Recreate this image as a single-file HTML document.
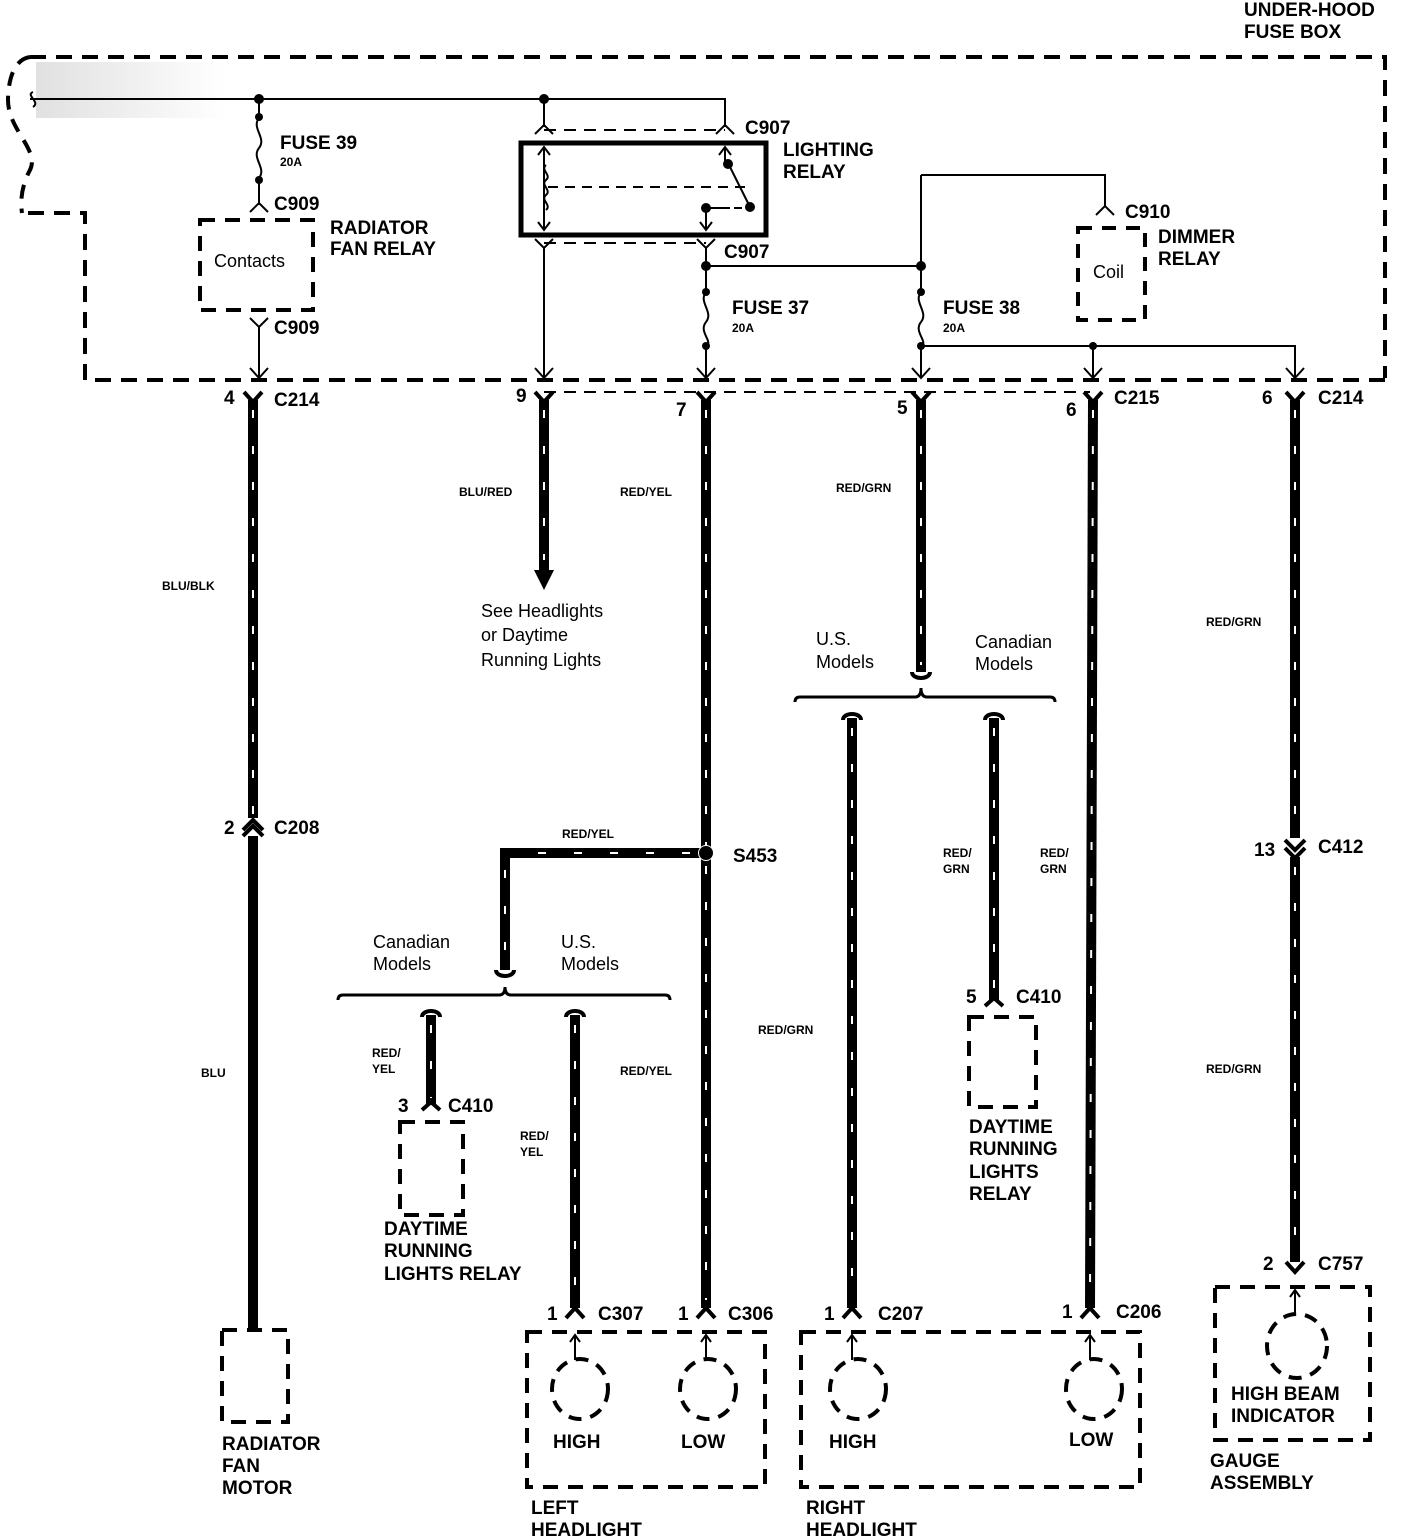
<!DOCTYPE html>
<html><head><meta charset="utf-8"><style>
html,body{margin:0;padding:0;background:#fff}
svg{display:block}
text{font-family:"Liberation Sans",sans-serif;fill:#000}
.b{font-weight:bold;font-size:19px}
.s{font-weight:bold;font-size:12px}
.n{font-size:18px}
</style></head><body>
<svg width="1408" height="1538" viewBox="0 0 1408 1538" xmlns="http://www.w3.org/2000/svg">
<defs>
<linearGradient id="g" x1="0" x2="1"><stop offset="0" stop-color="#ccc"/><stop offset="1" stop-color="#fff"/></linearGradient>
</defs>
<rect x="36" y="62" width="190" height="56" fill="url(#g)" opacity="0.6"/>
<g fill="none" stroke="#000">
<!-- fuse box outline -->
<path d="M30 57 H1385 V378 M1385 380 H85 V213 H22" stroke-width="4" stroke-dasharray="16 10"/>
<path d="M30 57 C10 60 8 90 8 100 C8 130 40 150 30 170 C22 185 20 200 22 213" stroke-width="4" stroke-dasharray="14 10"/>
<!-- bus -->
<path d="M30 99 H725 V127" stroke-width="2"/>
<path d="M33 92 c-8 3 8 10 0 15" stroke-width="2"/>
<!-- fuse 39 -->
<path d="M259 99 V118 c-8 10 8 20 0 30 c-8 10 8 20 0 30 V205" stroke-width="2"/>
<path d="M250 212 L259 203 L268 212" stroke-width="2"/>
<rect x="200" y="220" width="113" height="90" stroke-width="4" stroke-dasharray="15 10"/>
<path d="M250 318 L259 327 L268 318 M259 327 V378 M250 368 L259 378 L268 368" stroke-width="2"/>
<!-- lighting relay -->
<path d="M544 99 V127 M535 134 L544 125 L553 134 M716 134 L725 125 L734 134" stroke-width="2"/>
<path d="M544 130 H725" stroke-width="2" stroke-dasharray="12 8"/>
<rect x="521" y="143" width="245" height="92" stroke-width="5"/>
<path d="M544 147 V230 M538 155 L544 147 L550 155 M538 222 L544 230 L550 222" stroke-width="2"/>
<path d="M546 165 c-6 5 6 10 0 15 c-6 5 6 10 0 15 c-6 5 6 10 0 15" stroke-width="2"/>
<path d="M548 187 H745" stroke-width="2" stroke-dasharray="10 7"/>
<path d="M725 147 V163 M719 155 L725 147 L731 155 M728 163 L750 207" stroke-width="2"/>
<path d="M706 206 V230 M700 222 L706 230 L712 222 M708 208 H730" stroke-width="2"/>
<path d="M706 208 H748" stroke-width="2" stroke-dasharray="8 6"/>
<path d="M544 243 H706" stroke-width="2" stroke-dasharray="12 8"/>
<path d="M535 239 L544 248 L553 239 M697 239 L706 248 L715 239" stroke-width="2"/>
<path d="M544 248 V378 M535 368 L544 378 L553 368" stroke-width="2"/>
<!-- fuse 37 -->
<path d="M706 248 V292 c-8 10 8 20 0 30 c-8 10 8 20 0 24 V378 M697 368 L706 378 L715 368" stroke-width="2"/>
<path d="M706 266 H921" stroke-width="2"/>
<!-- fuse 38 -->
<path d="M921 175 H1105 V207 M1096 215 L1105 206 L1114 215" stroke-width="2"/>
<path d="M921 175 V292 c-8 10 8 20 0 30 c-8 10 8 20 0 24 V378 M912 368 L921 378 L930 368" stroke-width="2"/>
<rect x="1078" y="228" width="67" height="92" stroke-width="4" stroke-dasharray="14 10"/>
<path d="M921 346 H1295 V378 M1286 368 L1295 378 L1304 368 M1093 346 V378 M1084 368 L1093 378 L1102 368" stroke-width="2"/>
<path d="M544 392 H1090" stroke-width="2" stroke-dasharray="12 8"/>
</g>
<g fill="#000">
<circle cx="259" cy="99" r="5"/><circle cx="544" cy="99" r="5"/>
<circle cx="259" cy="117" r="4"/><circle cx="259" cy="180" r="4"/>
<circle cx="706" cy="266" r="5"/><circle cx="921" cy="266" r="5"/>
<circle cx="706" cy="292" r="4"/><circle cx="706" cy="346" r="4"/>
<circle cx="921" cy="292" r="4"/><circle cx="921" cy="346" r="4"/>
<circle cx="1093" cy="346" r="4"/>
<circle cx="728" cy="164" r="5"/><circle cx="750" cy="207" r="5"/><circle cx="706" cy="208" r="5"/>
</g>
<!-- connectors at y~392 -->
<g fill="none" stroke="#000" stroke-width="4">
<path d="M244 392 L253 402 L262 392 M535 392 L544 402 L553 392 M697 392 L706 402 L715 392 M912 392 L921 402 L930 392 M1084 392 L1093 402 L1102 392 M1286 392 L1295 402 L1304 392"/>
</g>
<!-- thick wires -->
<g fill="none" stroke="#000" stroke-width="10">
<path d="M253 400 V818"/><path d="M544 400 V572"/><path d="M706 400 V1308"/>
<path d="M921 400 V672"/><path d="M1093 400 L1090 1308"/><path d="M1295 400 V838"/>
<path d="M253 836 V1332"/>
<path d="M700 853 H505 V970"/>
<path d="M852 718 V1308"/><path d="M994 718 V1000"/>
<path d="M431 1015 V1105"/><path d="M575 1015 V1308"/>
<path d="M1295 857 V1262"/>
</g>
<g fill="none" stroke="#fff" stroke-width="2" stroke-dasharray="8 28">
<path d="M253 410 V818"/><path d="M544 410 V560"/><path d="M706 410 V846"/><path d="M706 866 V1300"/>
<path d="M921 410 V665"/><path d="M1093 410 L1090 1300"/><path d="M1295 410 V830"/>
<path d="M690 853 H515"/><path d="M505 870 V965"/>
<path d="M852 728 V1300"/><path d="M994 728 V995"/>
<path d="M431 1025 V1098"/><path d="M575 1025 V1300"/>
<path d="M1295 867 V1255"/>
</g>
<polygon points="534,570 554,570 544,590" fill="#000"/>
<circle cx="706" cy="853" r="8" fill="#fff"/><circle cx="706" cy="853" r="7" fill="#000"/>
<!-- inline connectors -->
<g fill="none" stroke="#000" stroke-width="4">
<path d="M243 830 L253 820 L263 830 M243 836 L253 826 L263 836"/>
<path d="M1285 840 L1295 850 L1305 840 M1285 848 L1295 858 L1305 848"/>
<path d="M1286 1262 L1295 1272 L1304 1262"/>
<path d="M566 1318 L575 1308 L584 1318 M697 1318 L706 1308 L715 1318 M843 1318 L852 1308 L861 1318 M1081 1318 L1090 1308 L1099 1318"/>
<path d="M422 1110 L431 1102 L440 1110 M985 1006 L994 998 L1003 1006"/>
<path d="M912 672 c0 8 18 8 18 0 M496 970 c0 8 18 8 18 0"/>
<path d="M843 720 c0 -8 18 -8 18 0 M985 720 c0 -8 18 -8 18 0 M422 1017 c0 -8 18 -8 18 0 M566 1017 c0 -8 18 -8 18 0"/>
</g>
<!-- brackets -->
<g fill="none" stroke="#000" stroke-width="3">
<path d="M795 702 Q795 697 800 697 H915 Q921 697 921 688 Q921 697 927 697 H1050 Q1055 697 1055 702"/>
<path d="M338 1000 Q338 995 343 995 H499 Q505 995 505 987 Q505 995 511 995 H665 Q670 995 670 1000"/>
</g>
<!-- boxes bottom -->
<g fill="none" stroke="#000" stroke-width="4" stroke-dasharray="15 10">
<rect x="222" y="1330" width="66" height="92"/>
<rect x="400" y="1122" width="63" height="93"/>
<rect x="969" y="1017" width="67" height="90"/>
<rect x="527" y="1332" width="238" height="155"/>
<rect x="801" y="1332" width="339" height="155"/>
<rect x="1215" y="1287" width="155" height="153"/>
</g>
<g fill="none" stroke="#000" stroke-width="4" stroke-dasharray="13 9">
<ellipse cx="580" cy="1389" rx="28" ry="30"/><ellipse cx="708" cy="1389" rx="28" ry="30"/>
<ellipse cx="858" cy="1389" rx="28" ry="30"/><ellipse cx="1094" cy="1389" rx="28" ry="30"/>
<ellipse cx="1297" cy="1346" rx="30" ry="32"/>
</g>
<g fill="none" stroke="#000" stroke-width="2">
<path d="M575 1335 V1360 M570 1342 L575 1335 L580 1342 M706 1335 V1360 M701 1342 L706 1335 L711 1342 M852 1335 V1360 M847 1342 L852 1335 L857 1342 M1090 1335 V1360 M1085 1342 L1090 1335 L1095 1342 M1295 1290 V1313 M1290 1297 L1295 1290 L1300 1297"/>
</g>
<!-- labels -->
<text class="b" x="1244" y="16">UNDER-HOOD</text>
<text class="b" x="1244" y="38">FUSE BOX</text>
<text class="b" x="280" y="149">FUSE 39</text><text class="s" x="280" y="166">20A</text>
<text class="b" x="274" y="210">C909</text>
<text class="b" x="330" y="234">RADIATOR</text><text class="b" x="330" y="255">FAN RELAY</text>
<text class="n" x="214" y="267">Contacts</text>
<text class="b" x="274" y="334">C909</text>
<text class="b" x="745" y="134">C907</text>
<text class="b" x="783" y="156">LIGHTING</text><text class="b" x="783" y="178">RELAY</text>
<text class="b" x="724" y="258">C907</text>
<text class="b" x="732" y="314">FUSE 37</text><text class="s" x="732" y="332">20A</text>
<text class="b" x="943" y="314">FUSE 38</text><text class="s" x="943" y="332">20A</text>
<text class="b" x="1125" y="218">C910</text>
<text class="b" x="1158" y="243">DIMMER</text><text class="b" x="1158" y="265">RELAY</text>
<text class="n" x="1093" y="278">Coil</text>
<text class="b" x="224" y="404">4</text><text class="b" x="274" y="406">C214</text>
<text class="b" x="516" y="402">9</text><text class="b" x="676" y="416">7</text>
<text class="b" x="897" y="414">5</text>
<text class="b" x="1066" y="416">6</text><text class="b" x="1114" y="404">C215</text>
<text class="b" x="1262" y="404">6</text><text class="b" x="1318" y="404">C214</text>
<text class="s" x="459" y="496">BLU/RED</text>
<text class="s" x="620" y="496">RED/YEL</text>
<text class="s" x="836" y="492">RED/GRN</text>
<text class="s" x="162" y="590">BLU/BLK</text>
<text class="s" x="1206" y="626">RED/GRN</text>
<text class="n" x="481" y="617">See Headlights</text>
<text class="n" x="481" y="641">or Daytime</text>
<text class="n" x="481" y="666">Running Lights</text>
<text class="n" x="816" y="645">U.S.</text><text class="n" x="816" y="668">Models</text>
<text class="n" x="975" y="648">Canadian</text><text class="n" x="975" y="670">Models</text>
<text class="b" x="224" y="834">2</text><text class="b" x="274" y="834">C208</text>
<text class="s" x="562" y="838">RED/YEL</text>
<text class="b" x="733" y="862">S453</text>
<text class="s" x="943" y="857">RED/</text><text class="s" x="943" y="873">GRN</text>
<text class="s" x="1040" y="857">RED/</text><text class="s" x="1040" y="873">GRN</text>
<text class="b" x="1254" y="856">13</text><text class="b" x="1318" y="853">C412</text>
<text class="n" x="373" y="948">Canadian</text><text class="n" x="373" y="970">Models</text>
<text class="n" x="561" y="948">U.S.</text><text class="n" x="561" y="970">Models</text>
<text class="b" x="966" y="1003">5</text><text class="b" x="1016" y="1003">C410</text>
<text class="s" x="758" y="1034">RED/GRN</text>
<text class="s" x="372" y="1057">RED/</text><text class="s" x="372" y="1073">YEL</text>
<text class="s" x="620" y="1075">RED/YEL</text>
<text class="s" x="1206" y="1073">RED/GRN</text>
<text class="s" x="201" y="1077">BLU</text>
<text class="b" x="398" y="1112">3</text><text class="b" x="448" y="1112">C410</text>
<text class="s" x="520" y="1140">RED/</text><text class="s" x="520" y="1156">YEL</text>
<text class="b" x="969" y="1133">DAYTIME</text><text class="b" x="969" y="1155">RUNNING</text>
<text class="b" x="969" y="1178">LIGHTS</text><text class="b" x="969" y="1200">RELAY</text>
<text class="b" x="384" y="1235">DAYTIME</text><text class="b" x="384" y="1257">RUNNING</text>
<text class="b" x="384" y="1280">LIGHTS RELAY</text>
<text class="b" x="1263" y="1270">2</text><text class="b" x="1318" y="1270">C757</text>
<text class="b" x="547" y="1320">1</text><text class="b" x="598" y="1320">C307</text>
<text class="b" x="678" y="1320">1</text><text class="b" x="728" y="1320">C306</text>
<text class="b" x="824" y="1320">1</text><text class="b" x="878" y="1320">C207</text>
<text class="b" x="1062" y="1318">1</text><text class="b" x="1116" y="1318">C206</text>
<text class="b" x="1231" y="1400">HIGH BEAM</text><text class="b" x="1231" y="1422">INDICATOR</text>
<text class="b" x="553" y="1448">HIGH</text><text class="b" x="681" y="1448">LOW</text>
<text class="b" x="829" y="1448">HIGH</text><text class="b" x="1069" y="1446">LOW</text>
<text class="b" x="222" y="1450">RADIATOR</text><text class="b" x="222" y="1472">FAN</text><text class="b" x="222" y="1494">MOTOR</text>
<text class="b" x="1210" y="1467">GAUGE</text><text class="b" x="1210" y="1489">ASSEMBLY</text>
<text class="b" x="531" y="1514">LEFT</text><text class="b" x="531" y="1536">HEADLIGHT</text>
<text class="b" x="806" y="1514">RIGHT</text><text class="b" x="806" y="1536">HEADLIGHT</text>
</svg>
</body></html>
